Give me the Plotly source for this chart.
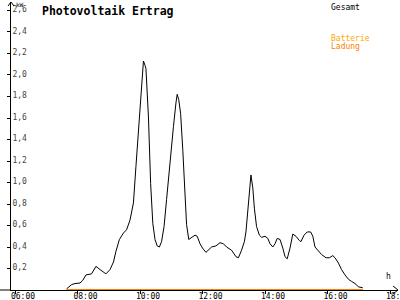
import plotly.graph_objects as go

# ---- data (hours of day, kW) ----
gesamt_t = [7.65, 7.81, 7.92, 8.08, 8.17, 8.27, 8.45, 8.59, 8.72, 8.91, 9.04, 9.15, 9.23,
            9.34, 9.47, 9.57, 9.68, 9.79, 9.87, 9.98, 10.05, 10.11, 10.16, 10.19, 10.27,
            10.34, 10.41, 10.48, 10.55, 10.62, 10.69, 10.77, 10.85, 10.96, 11.07, 11.15,
            11.19, 11.24, 11.30, 11.37, 11.44, 11.49, 11.56, 11.62, 11.76, 11.83, 11.92,
            12.00, 12.11, 12.29, 12.43, 12.56, 12.67, 12.77, 12.93, 13.07, 13.15, 13.25,
            13.34, 13.39, 13.45, 13.50, 13.55, 13.61, 13.66, 13.73, 13.82, 13.89, 14.00,
            14.09, 14.16, 14.25, 14.32, 14.39, 14.48, 14.57, 14.64, 14.71, 14.80, 14.89,
            14.99, 15.10, 15.15, 15.25, 15.35, 15.46, 15.53, 15.60, 15.71, 15.81, 15.95,
            16.06, 16.17, 16.24, 16.35, 16.45, 16.56, 16.67, 16.77, 16.88, 16.99, 17.13]
gesamt_kw = [0.01, 0.05, 0.06, 0.065, 0.09, 0.14, 0.15, 0.22, 0.19, 0.15, 0.19, 0.26, 0.36,
             0.47, 0.53, 0.56, 0.65, 0.81, 1.15, 1.61, 1.92, 2.13, 2.09, 2.06, 1.61,
             0.99, 0.62, 0.47, 0.41, 0.40, 0.45, 0.59, 0.84, 1.21, 1.52, 1.74,
             1.82, 1.77, 1.64, 1.30, 0.84, 0.61, 0.47, 0.48, 0.51, 0.50, 0.43,
             0.39, 0.35, 0.40, 0.41, 0.44, 0.43, 0.40, 0.37, 0.31, 0.30, 0.37,
             0.45, 0.54, 0.76, 0.93, 1.07, 0.95, 0.76, 0.59, 0.51, 0.49, 0.50,
             0.48, 0.43, 0.40, 0.43, 0.48, 0.47, 0.39, 0.31, 0.29, 0.39, 0.52,
             0.50, 0.46, 0.45, 0.51, 0.54, 0.54, 0.50, 0.40, 0.36, 0.33, 0.30,
             0.30, 0.32, 0.30, 0.25, 0.19, 0.14, 0.10, 0.08, 0.06, 0.03, 0.02]

ladung_t = [7.65, 17.13]
ladung_kw = [0.0, 0.0]

x_tickvals = [6, 8, 10, 12, 14, 16, 18]
x_ticktext = ["06:00", "08:00", "10:00", "12:00", "14:00", "16:00", "18:00"]
y_tickvals = [0.2, 0.4, 0.6, 0.8, 1.0, 1.2, 1.4, 1.6, 1.8, 2.0, 2.2, 2.4, 2.6]

FONT = "DejaVu Sans Mono"

fig = go.Figure()
fig.add_trace(go.Scatter(x=gesamt_t, y=gesamt_kw, mode="lines",
                         line=dict(color="#000000", width=1), name="Gesamt",
                         showlegend=False))
fig.add_trace(go.Scatter(x=ladung_t, y=ladung_kw, mode="lines",
                         line=dict(color="#ff8000", width=2), name="Batterie Ladung",
                         showlegend=False, cliponaxis=False))

fig.update_layout(
    width=400, height=300,
    margin=dict(l=11, r=2, t=2, b=10, pad=0, autoexpand=False),
    paper_bgcolor="white", plot_bgcolor="white",
    separators=",.",
    font=dict(family=FONT, size=8, color="black"),
    xaxis=dict(range=[5.872, 18.256], tickvals=x_tickvals, ticktext=x_ticktext,
               showgrid=False, zeroline=False, showline=True, linecolor="black",
               linewidth=1, ticks="outside", ticklen=3, tickcolor="black",
               tickfont=dict(family=FONT, size=8), ticklabelshift=8,
               ticklabelstandoff=-5, ticklabeloverflow="allow", automargin=False),
    yaxis=dict(range=[0, 2.679], tickvals=y_tickvals, tickformat=".1f",
               showgrid=False, zeroline=False, showline=True, linecolor="black",
               linewidth=1, ticks="outside", ticklen=3, tickcolor="black",
               ticklabelposition="inside", ticklabeloverflow="allow",
               ticklabelshift=-1, automargin=False,
               tickfont=dict(family=FONT, size=8)),
)

# axis extensions and arrow heads (decoration)
fig.add_shape(type="line", xref="paper", yref="paper", x0=-11/387, x1=0, y0=0, y1=0,
              line=dict(color="black", width=1))
fig.add_shape(type="path", xref="paper", yref="paper",
              path=f"M {-3/387} {1-4/288} L 0 1 L {3/387} {1-4/288}",
              line=dict(color="black", width=1))
fig.add_shape(type="path", xref="paper", yref="paper",
              path=f"M {1-5/387} {4/288} L 1 0 L {1-5/387} {-4/288}",
              line=dict(color="black", width=1))

# texts
fig.add_annotation(text="<b>Photovoltaik Ertrag</b>", xref="paper", yref="paper",
                   x=29/387, y=1, xanchor="left", yanchor="top", showarrow=False,
                   font=dict(family=FONT, size=11.5, color="black"))
fig.add_annotation(text="kW", xref="paper", yref="paper", x=3/387, y=1 + 3/288,
                   xanchor="left", yanchor="top", showarrow=False,
                   font=dict(family=FONT, size=6, color="black"))
fig.add_annotation(text="h", xref="paper", yref="paper", x=373/387, y=7/288,
                   xanchor="left", yanchor="bottom", showarrow=False,
                   font=dict(family=FONT, size=8, color="black"))
fig.add_annotation(text="Gesamt", xref="paper", yref="paper", x=318/387, y=1 + 1/288,
                   xanchor="left", yanchor="top", showarrow=False,
                   font=dict(family=FONT, size=8, color="black"))
fig.add_annotation(text="Batterie", xref="paper", yref="paper", x=318/387, y=1 - 30/288,
                   xanchor="left", yanchor="top", showarrow=False,
                   font=dict(family=FONT, size=8, color="#ffa800"))
fig.add_annotation(text="Ladung", xref="paper", yref="paper", x=318/387, y=1 - 38/288,
                   xanchor="left", yanchor="top", showarrow=False,
                   font=dict(family=FONT, size=8, color="#ff8000"))

fig.write_html("out.html")
